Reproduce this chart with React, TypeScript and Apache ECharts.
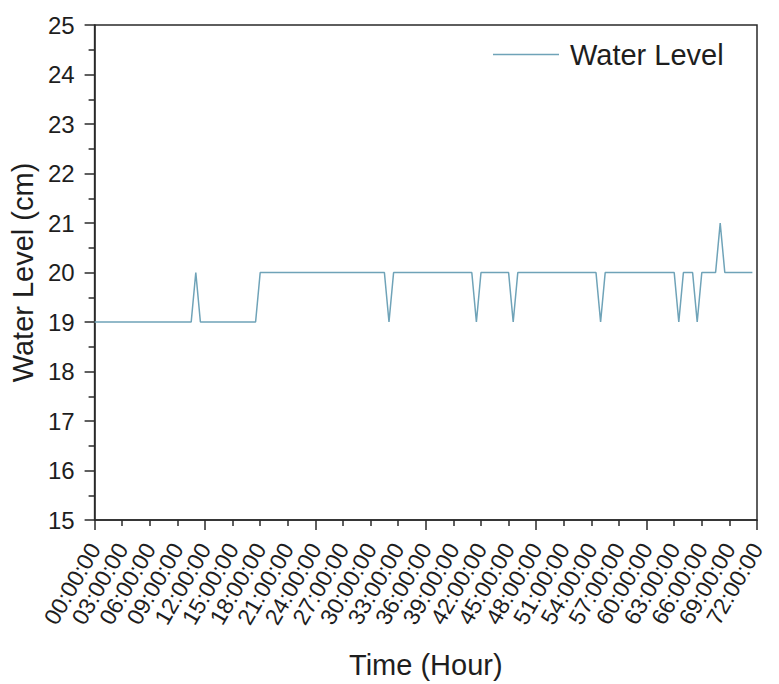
import React, { useEffect, useRef } from "react";
import * as echarts from "echarts";

const hours = [0, 10.5, 11, 11.5, 17.5, 18, 31.5, 32, 32.5, 41, 41.5, 42, 45, 45.5, 46, 54.5, 55, 55.5, 63, 63.5, 64, 65, 65.5, 66, 67.5, 68, 68.5, 71.5];
const levels = [19, 19, 20, 19, 19, 20, 20, 19, 20, 20, 19, 20, 20, 19, 20, 20, 19, 20, 20, 19, 20, 20, 19, 20, 20, 21, 20, 20];
const seriesName = "Water Level";
const xTitle = "Time (Hour)";
const yTitle = "Water Level (cm)";

const FONT = "'Liberation Sans', Arial, Helvetica, sans-serif";
const LINE_COLOR = "#6fa3b8";
const AXIS_COLOR = "#2a2a2a";

export default function App() {
  const ref = useRef<HTMLDivElement>(null);
  useEffect(() => {
    if (!ref.current) return;
    const chart = echarts.init(ref.current, null, { renderer: "svg" });
    const data = hours.map((h, i) => [h, levels[i]]);
    chart.setOption({
      animation: false,
      backgroundColor: "#ffffff",
      textStyle: { fontFamily: FONT },
      grid: {
        left: 94,
        right: 22,
        top: 25,
        bottom: 163,
        show: true,
        borderColor: AXIS_COLOR,
        borderWidth: 1.5,
        containLabel: false,
      },
      legend: {
        data: [seriesName],
        left: 488,
        top: 35,
        icon: "rect",
        itemWidth: 66,
        itemHeight: 1.5,
        itemStyle: { color: LINE_COLOR },
        textStyle: { fontSize: 29, color: "#1e1e1e", fontFamily: FONT, padding: [0, 0, 0, 6] },
      },
      xAxis: [
        {
          type: "value",
          min: 0,
          max: 72,
          interval: 12,
          position: "bottom",
          axisLine: { show: true, lineStyle: { color: AXIS_COLOR, width: 1.5 } },
          axisTick: { show: true, length: 10, lineStyle: { color: AXIS_COLOR, width: 1.5 } },
          minorTick: { show: true, splitNumber: 4, length: 6, lineStyle: { color: AXIS_COLOR, width: 1.5 } },
          axisLabel: { show: false },
          splitLine: { show: false },
          name: xTitle,
          nameLocation: "middle",
          nameGap: 130,
          nameTextStyle: { fontSize: 29, color: "#1e1e1e", fontFamily: FONT },
        },
        {
          type: "value",
          min: 0,
          max: 72,
          interval: 3,
          position: "bottom",
          axisLine: { show: false },
          axisTick: { show: false },
          splitLine: { show: false },
          axisLabel: {
            show: true,
            rotate: 60,
            margin: 25,
            fontSize: 23,
            color: "#1e1e1e",
            fontFamily: FONT,
            formatter: (v: number) => String(v).padStart(2, "0") + ":00:00",
          },
        },
      ],
      yAxis: {
        type: "value",
        min: 15,
        max: 25,
        interval: 1,
        axisLine: { show: true, lineStyle: { color: AXIS_COLOR, width: 1.5 } },
        axisTick: { show: true, length: 10, lineStyle: { color: AXIS_COLOR, width: 1.5 } },
        minorTick: { show: true, splitNumber: 2, length: 6, lineStyle: { color: AXIS_COLOR, width: 1.5 } },
        splitLine: { show: false },
        axisLabel: { fontSize: 24, color: "#1e1e1e", margin: 20, fontFamily: FONT },
        name: yTitle,
        nameLocation: "middle",
        nameGap: 54,
        nameTextStyle: { fontSize: 29, color: "#1e1e1e", fontFamily: FONT },
      },
      series: [
        {
          name: seriesName,
          type: "line",
          xAxisIndex: 0,
          data,
          showSymbol: false,
          symbol: "none",
          lineStyle: { color: LINE_COLOR, width: 1.5 },
          itemStyle: { color: LINE_COLOR },
        },
      ],
    });
    return () => chart.dispose();
  }, []);
  return <div ref={ref} style={{ width: 779, height: 684, position: "absolute", left: 0, top: 0 }} />;
}
